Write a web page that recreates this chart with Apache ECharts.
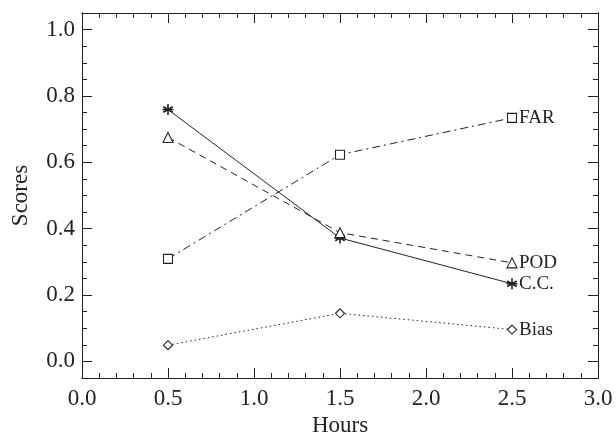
<!DOCTYPE html>
<html><head><meta charset="utf-8">
<script src="https://cdn.jsdelivr.net/npm/echarts@6/dist/echarts.min.js"></script>
<style>html,body{margin:0;padding:0;background:#fff}#c{width:616px;height:436px}</style>
</head><body><div id="c"></div>
<script>
const hours = [0.5, 1.5, 2.5];
const cc   = [0.759, 0.372, 0.234];
const pod  = [0.675, 0.388, 0.297];
const far  = [0.309, 0.623, 0.734];
const bias = [0.049, 0.145, 0.096];
const seriesNames = ['C.C.', 'POD', 'FAR', 'Bias'];
const yMajor = [0.0, 0.2, 0.4, 0.6, 0.8, 1.0];
const yMinor = [-0.05,0,0.05,0.1,0.15,0.2,0.25,0.3,0.35,0.4,0.45,0.5,0.55,0.6,0.65,0.7,0.75,0.8,0.85,0.9,0.95,1.0,1.05];
const xMajor = [0.0, 0.5, 1.0, 1.5, 2.0, 2.5, 3.0];
const xMinor = [0,0.1,0.2,0.3,0.4,0.5,0.6,0.7,0.8,0.9,1.0,1.1,1.2,1.3,1.4,1.5,1.6,1.7,1.8,1.9,2.0,2.1,2.2,2.3,2.4,2.5,2.6,2.7,2.8,2.9,3.0];

const ink = '#222';
const font = '"Liberation Serif", "Times New Roman", serif';

function yAx(pos, tickVals, len, labels){
  return {
    type:'value', position:pos, min:-0.05, max:1.05,
    axisLine:{show:true, onZero:false, lineStyle:{color:ink, width:1}},
    axisTick:{show:true, inside:true, length:len, customValues:tickVals, lineStyle:{color:ink, width:1}},
    axisLabel:{show:labels, customValues:yMajor, formatter:v=>v.toFixed(1), color:ink, fontFamily:font, fontSize:23, margin:7},
    splitLine:{show:false},
    name: labels ? 'Scores' : '', nameLocation:'middle', nameGap:50,
    nameTextStyle:{color:ink, fontFamily:font, fontSize:23}
  };
}
function xAx(pos, tickVals, len, labels){
  return {
    type:'value', position:pos, min:0, max:3,
    axisLine:{show:true, onZero:false, lineStyle:{color:ink, width:1}},
    axisTick:{show:true, inside:true, length:len, customValues:tickVals, lineStyle:{color:ink, width:1}},
    axisLabel:{show:labels, customValues:xMajor, formatter:v=>v.toFixed(1), color:ink, fontFamily:font, fontSize:23, margin:9},
    splitLine:{show:false},
    name: labels ? 'Hours' : '', nameLocation:'middle', nameGap:32,
    nameTextStyle:{color:ink, fontFamily:font, fontSize:23}
  };
}

const asterisk = 'path://M0,-10 L0,10 M-8.66,-5 L8.66,5 M-8.66,5 L8.66,-5 M-10,0 L10,0';
const diamond = 'path://M0,-10 L10,0 L0,10 L-10,0 Z';

function mk(name, vals, lineType, symbol, size, hollow, bw){
  return {
    name, type:'line', xAxisIndex:0, yAxisIndex:0,
    data: hours.map((h,i)=>[h, vals[i]]),
    symbol, symbolSize:size, symbolKeepAspect:true,
    showAllSymbol:true,
    lineStyle:{color:ink, width:1, type:lineType},
    itemStyle:{color: hollow ? '#fff' : ink, borderColor:ink, borderWidth:bw},
    endLabel:{show:true, formatter:name, color:ink, fontFamily:font, fontSize:19, distance:7},
    emphasis:{disabled:true}, animation:false, z:3
  };
}

const chart = echarts.init(document.getElementById('c'), null, {renderer:'canvas'});
chart.setOption({
  animation:false,
  backgroundColor:'#fff',
  grid:{left:82, right:18, top:13, bottom:58, containLabel:false, outerBoundsMode:'none'},
  xAxis:[xAx('bottom', xMajor, 10, true), xAx('bottom', xMinor, 5, false), xAx('top', xMajor, 10, false), xAx('top', xMinor, 5, false)],
  yAxis:[yAx('left', yMajor, 10, true), yAx('left', yMinor, 5, false), yAx('right', yMajor, 10, false), yAx('right', yMinor, 5, false)],
  series:[
    mk(seriesNames[0], cc, 'solid', asterisk, 11, false, 1.6),
    mk(seriesNames[1], pod, [7,5], 'triangle', 10, true, 1.1),
    mk(seriesNames[2], far, [8,4,2,4], 'rect', 9, true, 1.1),
    mk(seriesNames[3], bias, [1.5,3], diamond, 9, true, 1.1)
  ]
});
</script></body></html>
